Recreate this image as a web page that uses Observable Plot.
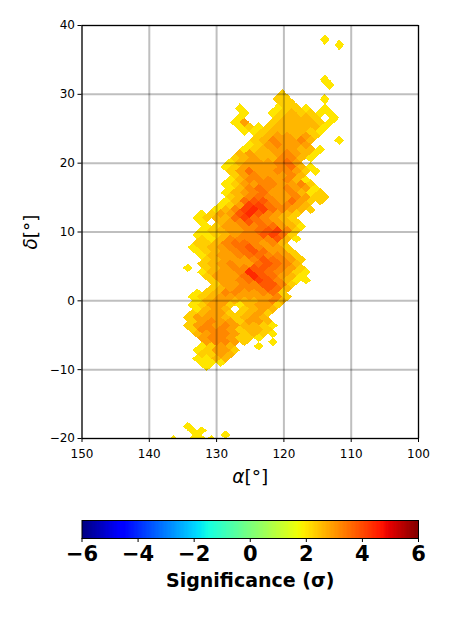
<!DOCTYPE html>
<html>
<head>
<meta charset="utf-8">
<script src="https://cdn.jsdelivr.net/npm/d3@7"></script>
<script src="https://cdn.jsdelivr.net/npm/@observablehq/plot@0.6"></script>
<style>
html,body{margin:0;padding:0;background:#fff}
svg{display:block}
</style>
</head>
<body>
<div id="chart"></div>
<div id="bar"></div>
<script>
// Sky-pixel rows: declination, left pixel column, significance level per pixel
const ringDec = [37.92,37.17,32.09,31.39,30.00,29.31,29.31,28.63,27.95,27.95,27.95,27.28,27.28,26.61,26.61,25.94,25.94,25.28,25.28,24.62,23.97,23.32,23.32,22.67,22.02,21.39,20.75,20.11,19.47,18.84,18.21,17.58,16.96,16.34,15.71,15.09,14.48,13.86,13.25,12.64,12.02,11.42,10.81,10.20,9.59,8.99,8.39,7.78,7.18,6.58,5.98,5.38,4.78,4.78,4.18,3.58,2.98,2.39,1.79,1.19,0.60,0,-0.60,-1.19,-1.79,-2.39,-2.98,-3.58,-4.18,-4.78,-5.38,-5.98,-5.98,-6.58,-6.58,-7.18,-7.78,-8.39,-8.99,-9.59,-18.21,-18.84,-19.47,-19.47,-20.11,-20.11,-20.11];
const ringStart = [162,159,162,161,171,172,162,171,180,172,162,179,173,180,172,181,173,180,174,179,176,177,159,178,179,180,181,182,183,182,181,182,183,182,183,182,183,184,185,188,189,188,187,188,189,188,189,190,189,188,187,188,187,191,188,187,186,185,186,189,190,189,190,189,190,191,190,191,190,189,188,187,173,188,176,189,188,189,188,187,191,190,189,183,194,190,186];
const ringLevels = ["0","0","0","0","1","11","0","11","0","0110","0","0","0121100","0","12221_0","03","1222210","010","1222220","001222210","1233231","1243342","0","0134333","012333220","232234320","123224420","02333453","0133334520","1353344310","13433342","024443420","0133443341","0245434330","02345334201","12454334311","02566435311","0137754432","02478754321","01336864321","01225754321","0_234654321","01334455320","01233456741","00123446751","10244444620","1124554342","01234564331","01234565331","02334554431","12333465431","12343356542","12344665431","0","023348654310","13335865320","13345764200","133446641","123444652","0124433451","01233333341","0233222342","0133102331","0232_1232","123311231","133321232","134331332","1343432210","144431221","234431210","3443110","34431","0","0132","0","01331","1132","0022","000","0","0","00","0","0","0","00","0"];
const raUnit = 0.703125;          // half a pixel column, degrees of RA
const sigmaBase = 2, sigmaStep = 0.3;
const raTicks = [150,140,130,120,110,100];
const decTicks = [-20,-10,0,10,20,30,40];
const barTicks = [-6,-4,-2,0,2,4,6];

const pixels = [];
ringDec.forEach((dec,i)=>{
  [...ringLevels[i]].forEach((c,j)=>{
    if(c!=="_") pixels.push({ra:(ringStart[i]-2*j)*raUnit, dec, sigma:sigmaBase+sigmaStep*(+c)});
  });
});

const ch = (pts)=>d3.scaleLinear().domain(pts.map(p=>p[0])).range(pts.map(p=>p[1])).clamp(true);
const jr = ch([[0,0],[.35,0],[.66,1],[.89,1],[1,.5]]);
const jg = ch([[0,0],[.125,0],[.375,1],[.64,1],[.91,0],[1,0]]);
const jb = ch([[0,.5],[.11,1],[.34,1],[.65,0],[1,0]]);
const jet = t=>`rgb(${Math.round(255*jr(t))},${Math.round(255*jg(t))},${Math.round(255*jb(t))})`;
const colorScale = {type:"linear",domain:[-6,6],interpolate:()=>jet};

const diamond = hh=>({draw(c){c.moveTo(0,-hh);c.lineTo(4.9,0);c.lineTo(0,hh);c.lineTo(-4.9,0);c.closePath();}});
const minus = d=>String(d).replace("-","\u2212");
const bands = [
  {test:d=>d>=26, hh:5.2},
  {test:d=>d>=10&&d<26, hh:4.6},
  {test:d=>d<10, hh:4.3}
];

const main = Plot.plot({
  width:450,height:500,
  marginLeft:81.5,marginRight:32,marginTop:25,marginBottom:62,
  style:{fontFamily:"'DejaVu Sans',sans-serif",fontSize:"12px",background:"#fff",color:"#000"},
  x:{domain:[150,100]},
  y:{domain:[-20,40]},
  color:colorScale,
  marks:[
    ...bands.map(b=>Plot.dot(pixels.filter(p=>b.test(p.dec)),{x:"ra",y:"dec",fill:"sigma",symbol:diamond(b.hh),shapeRendering:"crispEdges",clip:true})),
    Plot.gridX(raTicks,{stroke:"#000",strokeOpacity:0.25,strokeWidth:2}),
    Plot.gridY(decTicks,{stroke:"#000",strokeOpacity:0.25,strokeWidth:2}),
    Plot.axisX(raTicks,{tickSize:4,tickPadding:7,label:null,tickFormat:minus,fontSize:12,stroke:"#000"}),
    Plot.axisY(decTicks,{tickSize:4,tickPadding:3,label:null,tickFormat:minus,fontSize:12,stroke:"#000"}),
    Plot.frame({stroke:"#000",strokeWidth:1.1}),
    Plot.text(["α[°]"],{frameAnchor:"bottom",dy:44,fontSize:18.5,className:"lab"}),
    Plot.text(["δ[°]"],{frameAnchor:"left",dx:-51,rotate:-90,textAnchor:"middle",fontSize:18.5,className:"lab"})
  ]
});
document.getElementById("chart").append(main);

// math-style labels: greek italic, bracket upright
main.querySelectorAll(".lab text").forEach(t=>{
  const s=t.textContent; t.textContent="";
  const a=document.createElementNS("http://www.w3.org/2000/svg","tspan");
  a.setAttribute("font-style","italic");a.textContent=s[0];
  const b=document.createElementNS("http://www.w3.org/2000/svg","tspan");
  b.textContent=s.slice(1);
  t.append(a,b);
});

const ramp = d3.range(-6,6,12/256).map(v=>({v,w:12/256}));
const bar = Plot.plot({
  width:450,height:130,
  marginLeft:81.5,marginRight:32,marginTop:20,marginBottom:92,
  style:{fontFamily:"'DejaVu Sans',sans-serif",background:"#fff",color:"#000"},
  x:{domain:[-6,6]},
  color:colorScale,
  marks:[
    Plot.rect(ramp,{x1:"v",x2:d=>d.v+d.w+0.02,fill:"v",shapeRendering:"crispEdges"}),
    Plot.frame({stroke:"#000",strokeWidth:1}),
    Plot.axisX(barTicks,{tickSize:4,tickPadding:4,label:null,tickFormat:minus,fontSize:21,fontWeight:"bold",stroke:"#000"}),
    Plot.text(["Significance (σ)"],{frameAnchor:"bottom",dy:48,fontSize:19,fontWeight:"bold"})
  ]
});
document.getElementById("bar").append(bar);
</script>
</body>
</html>
